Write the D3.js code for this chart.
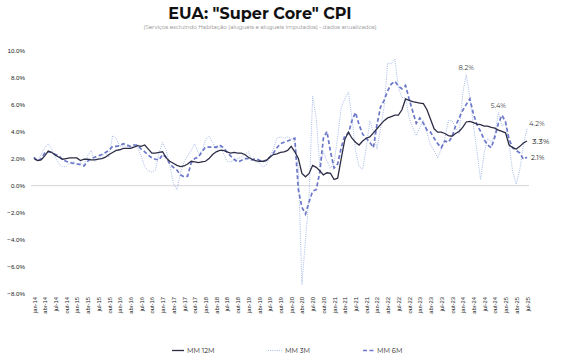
<!DOCTYPE html>
<html><head><meta charset="utf-8">
<script src="https://cdn.jsdelivr.net/npm/d3@7"></script>
<style>
body{margin:0;background:#fff;}
svg{display:block;font-family:"Montserrat","DejaVu Sans",sans-serif;}
</style></head>
<body><svg id="c" width="581" height="362"></svg>
<script>
// Monthly categories jan-14 .. jul-25
const monthNames = ["jan","fev","mar","abr","mai","jun","jul","ago","set","out","nov","dez"];
const startYear = 2014;
const nMonths = 139;
const categories = d3.range(nMonths).map(i => monthNames[i % 12] + "-" + String((startYear + Math.floor(i / 12)) % 100).padStart(2, "0"));
const tickLabels = categories.filter((c, i) => i % 3 === 0);

const mm12 = [2.0,1.85,1.9,2.2,2.55,2.45,2.25,2.1,1.95,2.0,2.05,2.05,
2.05,1.85,1.95,1.95,1.9,1.9,1.95,2.0,2.1,2.3,2.45,2.6,
2.65,2.75,2.75,2.75,2.85,2.95,2.9,3.0,2.7,2.4,2.4,2.45,
2.5,2.05,1.8,1.65,1.5,1.4,1.45,1.6,1.8,1.75,1.7,1.75,
1.8,2.0,2.3,2.5,2.6,2.6,2.5,2.4,2.45,2.4,2.4,2.3,
2.1,1.95,1.85,1.8,1.8,1.85,2.1,2.3,2.35,2.45,2.5,2.6,
2.9,2.5,2.0,0.9,0.65,0.9,1.5,1.35,1.1,0.8,0.95,0.9,
0.45,0.55,2.0,3.4,3.95,3.5,3.2,3.0,3.3,3.5,3.6,3.9,
4.2,4.5,4.8,5.0,5.1,5.2,5.2,5.6,6.4,6.3,6.2,6.15,
6.1,6.05,5.6,4.9,4.2,3.95,3.95,3.85,3.7,3.65,3.85,4.0,
4.3,4.7,4.75,4.65,4.55,4.5,4.4,4.4,4.3,4.25,4.1,4.0,
3.9,3.0,2.8,2.7,2.9,3.15,3.3];

const mm3 = [2.1,1.9,2.3,2.8,3.1,2.7,2.1,1.6,1.4,1.4,1.7,1.8,
1.55,1.7,1.5,2.2,2.6,1.8,2.0,2.2,2.4,2.1,3.7,3.5,
2.9,2.95,2.9,2.8,3.0,2.8,2.2,1.4,1.1,1.0,1.15,2.4,
3.2,2.6,1.5,0.2,-0.3,0.9,1.75,2.2,2.6,3.1,2.4,2.5,
3.4,3.65,3.2,2.7,2.9,2.4,1.8,1.75,1.9,2.0,2.1,2.3,
2.5,1.9,1.8,1.7,1.4,1.5,2.1,2.7,3.5,3.6,3.5,3.6,
3.5,3.2,1.2,-7.3,-4.0,-0.8,6.6,5.0,1.4,2.5,1.8,1.3,
1.7,3.6,5.8,6.4,6.9,5.0,2.6,1.4,1.2,2.8,4.8,4.0,
2.7,4.2,5.8,9.05,9.0,9.35,7.25,6.5,6.5,5.0,4.3,3.7,
4.3,4.8,3.9,3.0,2.6,2.05,2.7,3.5,4.8,4.8,4.3,3.85,
6.8,8.2,6.5,4.5,2.5,0.45,2.4,3.5,3.2,3.8,5.4,4.4,
4.6,3.0,1.0,0.1,1.2,3.0,4.2];

const mm6 = [2.1,1.8,2.0,2.4,2.5,2.45,2.3,2.2,1.9,1.8,1.7,1.65,
1.6,1.55,1.45,1.8,2.0,2.1,2.2,2.3,2.45,2.6,2.9,2.9,
2.95,3.1,3.0,2.9,3.0,3.0,2.7,2.5,2.25,2.05,1.95,1.9,
2.3,2.1,1.6,1.35,1.15,0.8,0.65,0.7,1.7,2.0,2.1,2.5,
2.85,2.85,2.85,2.85,3.0,2.8,2.5,2.2,1.95,1.75,1.85,2.0,
2.0,1.9,2.0,1.9,1.75,1.9,2.1,2.4,2.8,3.1,3.2,3.3,
3.4,3.5,-0.3,-1.6,-2.1,-1.2,-0.4,-0.3,1.0,3.5,4.0,2.5,
1.3,1.6,2.8,3.7,3.85,4.8,5.4,4.5,3.8,3.5,3.2,2.8,
4.5,5.8,6.3,7.0,7.5,7.7,7.35,7.15,7.4,6.4,5.5,4.6,
5.0,4.6,4.1,3.95,3.5,3.1,2.8,3.3,3.2,3.6,4.4,5.0,
5.55,6.0,6.4,5.3,4.5,4.0,3.4,3.0,2.8,3.6,4.6,5.2,
4.7,3.4,2.8,2.6,2.4,1.95,2.1];

const yTicks = [-8,-6,-4,-2,0,2,4,6,8,10];
const seriesNames = ["MM 12M","MM 3M","MM 6M"];
const annotations = [
  {label:"8.2%", series:"mm3", idx:121},
  {label:"5.4%", series:"mm3", idx:130},
  {label:"4.2%", series:"mm3", idx:138},
  {label:"3.3%", series:"mm12", idx:138},
  {label:"2.1%", series:"mm6", idx:138}
];

const svg = d3.select("#c");
const x = d3.scalePoint().domain(categories).range([34, 527]);
const y = d3.scaleLinear().domain([-8, 10]).range([294, 50.2]);

// title
svg.append("text").attr("x", 260).attr("y", 19).attr("text-anchor","middle")
  .attr("font-size", 16).attr("font-weight","bold").attr("fill","#111")
  .text('EUA: "Super Core" CPI');
svg.append("text").attr("x", 260).attr("y", 28.5).attr("text-anchor","middle")
  .attr("font-size", 5.6).attr("fill","#8a8a8a")
  .text("(Serviços excluindo Habitação (aluguéis e aluguéis imputados) - dados anualizados)");

// y axis labels
const yAxis = d3.axisLeft(y).tickValues(yTicks).tickSize(0).tickPadding(0)
  .tickFormat(d => d3.format(".1f")(d) + "%");
const gy = svg.append("g").attr("transform","translate(25,0)").call(yAxis);
gy.select(".domain").remove();
gy.selectAll("text").attr("font-size", 6.2).attr("fill","#222").attr("font-family","inherit");

// zero line
svg.append("line").attr("x1", 31).attr("x2", 529).attr("y1", y(0)).attr("y2", y(0))
  .attr("stroke","#d4d4d4").attr("stroke-width",1);

// x axis labels
const xAxis = d3.axisBottom(x).tickValues(tickLabels).tickSize(0).tickPadding(0);
const gx = svg.append("g").attr("transform","translate(0,297)").call(xAxis);
gx.select(".domain").remove();
gx.selectAll("text").attr("font-size", 5.8).attr("fill","#222").attr("font-family","inherit")
  .attr("text-anchor","end").attr("transform","rotate(-90)")
  .attr("x", 0).attr("y", 0).attr("dy","0.35em");

const line = d3.line().x((d, i) => x(categories[i])).y(d => y(d));
const data = {mm12, mm3, mm6};

svg.append("path").datum(mm3).attr("d", line).attr("fill","none")
  .attr("stroke","#a7bbea").attr("stroke-width",1).attr("stroke-dasharray","1,1.2");
svg.append("path").datum(mm6).attr("d", line).attr("fill","none")
  .attr("stroke","#6b78c8").attr("stroke-width",1.7).attr("stroke-dasharray","4,2.5");
svg.append("path").datum(mm12).attr("d", line).attr("fill","none")
  .attr("stroke","#2d2d46").attr("stroke-width",1.3);

// annotations
annotations.forEach(a => {
  const v = data[a.series][a.idx];
  const cx = x(categories[a.idx]);
  const cy = y(v);
  const t = svg.append("text").text(a.label).attr("fill", "#444").attr("font-size", 6.8);
  if (a.series === "mm3" && a.idx < 138) {
    t.attr("x", cx).attr("y", cy - 5).attr("text-anchor","middle");
  } else if (a.series === "mm3") {
    t.attr("x", cx + 2).attr("y", cy - 3);
  } else if (a.series === "mm12") {
    t.attr("x", cx + 5).attr("y", cy + 3).attr("font-size", 8).attr("fill","#111");
  } else {
    t.attr("x", cx + 4).attr("y", cy + 3).attr("fill","#222");
  }
});

// legend
const legend = [
  {name: seriesNames[0], color:"#2d2d46", dash:null, w:1.3, x1:172, x2:184},
  {name: seriesNames[1], color:"#a7bbea", dash:"1,1.2", w:1, x1:268, x2:282},
  {name: seriesNames[2], color:"#6b78c8", dash:"4,2.5", w:1.7, x1:363, x2:374}
];
legend.forEach(l => {
  svg.append("line").attr("x1", l.x1).attr("x2", l.x2).attr("y1", 350.5).attr("y2", 350.5)
    .attr("stroke", l.color).attr("stroke-width", l.w).attr("stroke-dasharray", l.dash);
  svg.append("text").attr("x", l.x2 + 3).attr("y", 353).attr("font-size", 6.8).attr("fill","#222").text(l.name);
});
</script></body></html>
